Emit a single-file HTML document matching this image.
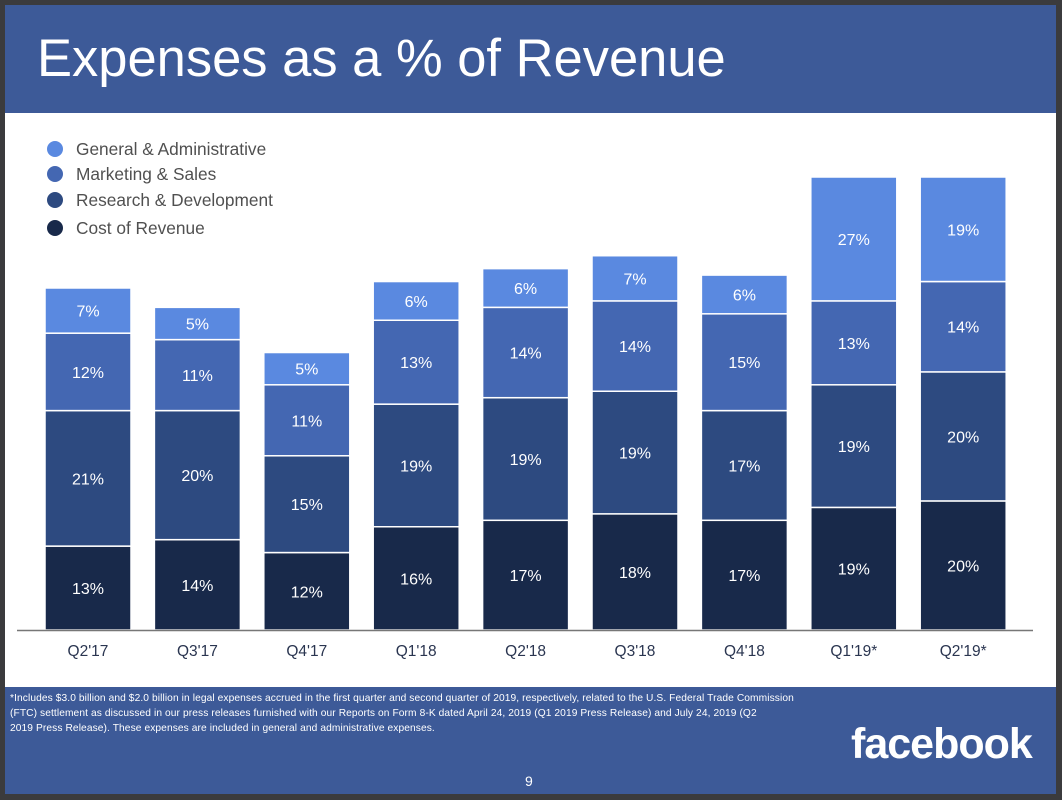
<!DOCTYPE html>
<html><head><meta charset="utf-8"><style>
html,body{margin:0;padding:0;background:#3b3b3d;width:1062px;height:800px;overflow:hidden;font-family:"Liberation Sans",sans-serif}
#slide{position:absolute;left:5px;top:5px;width:1051px;height:789px;background:#fff}
#header{position:absolute;left:0;top:0;width:1051px;height:108px;background:#3d5a98}
#title{position:absolute;left:32px;top:23px;font-size:52.5px;color:#fff;margin:0;font-weight:normal}
#footer{position:absolute;left:0;top:682px;width:1051px;height:107px;background:#3d5a98}
#note{position:absolute;left:5px;top:4px;font-size:10.2px;line-height:15px;color:#fff;letter-spacing:0.1px;white-space:nowrap}
#note span{display:block}
#logo{position:absolute;left:846px;top:33px;font-size:43px;font-weight:bold;color:#fff;letter-spacing:-1px}
#pnum{position:absolute;left:520px;top:86px;font-size:14px;color:#fff}
</style></head><body>
<div id="slide">
<div id="header"><h1 id="title">Expenses as a % of Revenue</h1></div>
<svg id="chart" width="1051" height="574" style="position:absolute;left:0;top:108px"></svg>
<div id="footer">
<div id="note"><span>*Includes $3.0 billion and $2.0 billion in legal expenses accrued in the first quarter and second quarter of 2019, respectively, related to the U.S. Federal Trade Commission</span><span>(FTC) settlement as discussed in our press releases furnished with our Reports on Form 8-K dated April 24, 2019 (Q1 2019 Press Release) and July 24, 2019 (Q2</span><span>2019 Press Release). These expenses are included in general and administrative expenses.</span></div>
<div id="logo">facebook</div>
<div id="pnum">9</div>
</div>
</div>
<script>
const categories=["Q2'17","Q3'17","Q4'17","Q1'18","Q2'18","Q3'18","Q4'18","Q1'19*","Q2'19*"];
const costOfRevenue=[13,14,12,16,17,18,17,19,20];
const researchDev=[21,20,15,19,19,19,17,19,20];
const marketingSales=[12,11,11,13,14,14,15,13,14];
const generalAdmin=[7,5,5,6,6,7,6,27,19];
const seriesNames=["General & Administrative","Marketing & Sales","Research & Development","Cost of Revenue"];
const yMax=70.2;

const NS="http://www.w3.org/2000/svg";
const svg=document.getElementById('chart');
const OY=113, OX=5;
const baseY=630-OY, topY=177-OY;
const y=v=>baseY-(v/yMax)*(baseY-topY);
const x0=45-OX, step=109.4, bw=86;
const xc=i=>x0+i*step;
const colors=["#18294a","#2d4a80","#4467b2","#5a89e0"];
function mk(t,a){const e=document.createElementNS(NS,t);for(const k in a)e.setAttribute(k,a[k]);svg.appendChild(e);return e;}
const stacks=[costOfRevenue,researchDev,marketingSales,generalAdmin];
const segNames=['cost-of-revenue','research-development','marketing-sales','general-admin'];
categories.forEach((c,i)=>{
  let cum=0;
  stacks.forEach((s,k)=>{
    const v=s[i];const a=Math.min(cum,yMax),b=Math.min(cum+v,yMax);cum+=v;
    const y1=y(b),y2=y(a);
    const r=mk('rect',{x:xc(i),y:y1,width:bw,height:y2-y1,fill:colors[k],stroke:'#fff','stroke-width':1.5});
    
    
    const t=mk('text',{x:xc(i)+bw/2,y:(y1+y2)/2+6,'text-anchor':'middle',fill:'#fff','font-size':16});
    t.textContent=v+'%';
    
    
  });
  const l=mk('text',{x:xc(i)+bw/2,y:656-OY,'text-anchor':'middle',fill:'#2a3550','font-size':15.5});
  l.textContent=c;
  
  
});
const ax=mk('line',{x1:12,x2:1028,y1:baseY+0.5,y2:baseY+0.5,stroke:'#777','stroke-width':1.5});


const lc=["#5a89e0","#4467b2","#2d4a80","#18294a"];
const ly=[149,174,200,228];
seriesNames.forEach((n,k)=>{
  const c=mk('circle',{cx:55-OX,cy:ly[k]-OY,r:8,fill:lc[k]});
  
  
  const t=mk('text',{x:76-OX,y:ly[k]-OY+6,fill:'#505050','font-size':17.3});
  t.textContent=n;
  
  
});
</script>
</body></html>
